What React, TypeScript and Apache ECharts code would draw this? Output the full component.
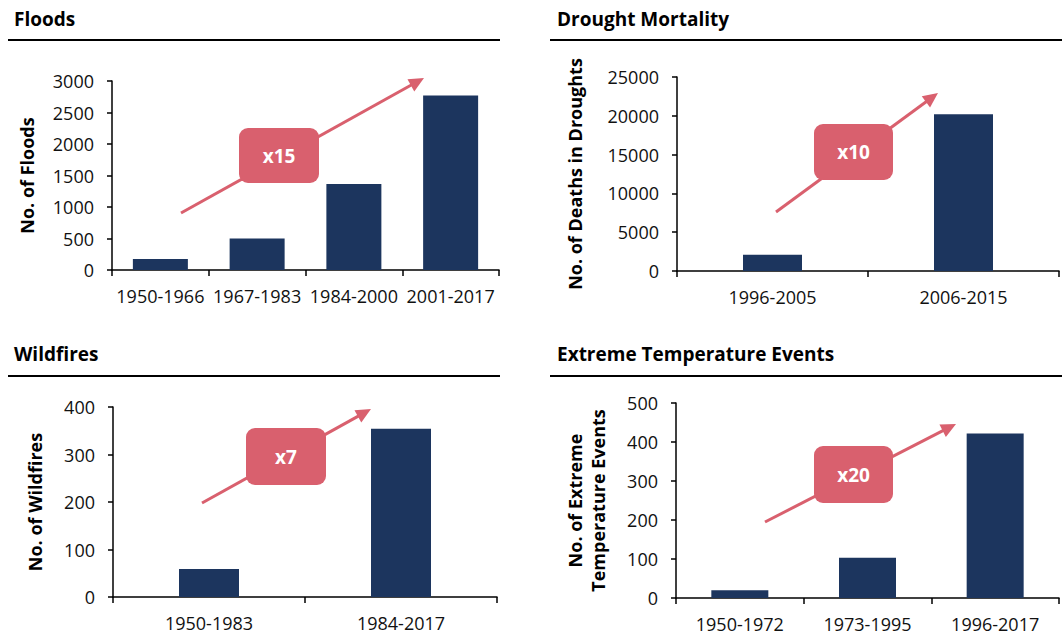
import React, { useEffect, useRef } from "react";
import * as echarts from "echarts";

// ---- Data ----
const floodCategories = ["1950-1966", "1967-1983", "1984-2000", "2001-2017"];
const floodValues = [175, 500, 1365, 2770];

const droughtCategories = ["1996-2005", "2006-2015"];
const droughtValues = [2100, 20200];

const wildfireCategories = ["1950-1983", "1984-2017"];
const wildfireValues = [59, 354];

const tempCategories = ["1950-1972", "1973-1995", "1996-2017"];
const tempValues = [20, 103, 422];

const panelTitles = ["Floods", "Drought Mortality", "Wildfires", "Extreme Temperature Events"];
const axisNames = [
  "No. of Floods",
  "No. of Deaths in Droughts",
  "No. of Wildfires",
  "No. of Extreme\nTemperature Events",
];
const multipliers = ["x15", "x10", "x7", "x20"];
const axisMax = [3000, 25000, 400, 500];
const axisInterval = [500, 5000, 100, 100];

// ---- Layout / style ----
const FONT = "'Open Sans', 'Noto Sans', sans-serif";
const BAR = "#1c355e";
const RED = "#d9606e";

const grids = [
  { left: 112, top: 81, width: 387, height: 189 },
  { left: 677, top: 77, width: 382, height: 194 },
  { left: 113, top: 407, width: 384, height: 190 },
  { left: 676, top: 403, width: 383, height: 195 },
];
const barWidths = [55, 59, 60, 57];
const nameGaps = [74, 91, 67, 67];
const titlePos = [
  { left: 14, top: 9 },
  { left: 557, top: 9 },
  { left: 14, top: 344 },
  { left: 557, top: 344 },
];
const underlines = [
  { x1: 8, x2: 500, y: 40 },
  { x1: 550, x2: 1062, y: 40 },
  { x1: 8, x2: 500, y: 376 },
  { x1: 550, x2: 1062, y: 376 },
];
const arrows = [
  { x1: 181, y1: 213, x2: 424, y2: 78 },
  { x1: 776, y1: 212, x2: 938, y2: 93 },
  { x1: 202, y1: 503, x2: 371, y2: 409 },
  { x1: 765, y1: 522, x2: 956, y2: 424 },
];
const boxes = [
  { x: 239, y: 128, w: 80, h: 55 },
  { x: 814, y: 124, w: 79, h: 56 },
  { x: 246, y: 428, w: 80, h: 57 },
  { x: 814, y: 446, w: 79, h: 57 },
];

function arrowElements(a: { x1: number; y1: number; x2: number; y2: number }) {
  const dx = a.x2 - a.x1;
  const dy = a.y2 - a.y1;
  const L = Math.hypot(dx, dy);
  const ux = dx / L;
  const uy = dy / L;
  const head = 15;
  const hw = 7;
  const bx = a.x2 - ux * head;
  const by = a.y2 - uy * head;
  return [
    {
      type: "line",
      z: 10,
      shape: { x1: a.x1, y1: a.y1, x2: bx + ux * 2, y2: by + uy * 2 },
      style: { stroke: RED, lineWidth: 3 },
    },
    {
      type: "polygon",
      z: 10,
      shape: {
        points: [
          [a.x2, a.y2],
          [bx - uy * hw, by + ux * hw],
          [bx + uy * hw, by - ux * hw],
        ],
      },
      style: { fill: RED },
    },
  ];
}

export default function App() {
  const ref = useRef<HTMLDivElement>(null);

  useEffect(() => {
    if (!ref.current) return;
    const chart = echarts.init(ref.current, undefined, { renderer: "svg" });

    const cats = [floodCategories, droughtCategories, wildfireCategories, tempCategories];
    const vals = [floodValues, droughtValues, wildfireValues, tempValues];

    const axisLine = { show: true, lineStyle: { color: "#000", width: 1.5 } };
    const axisTick = { show: true, length: 6, lineStyle: { color: "#000", width: 1.5 } };

    const graphic: any[] = [];
    underlines.forEach((u) => {
      graphic.push({
        type: "line",
        shape: { x1: u.x1, y1: u.y, x2: u.x2, y2: u.y },
        style: { stroke: "#000", lineWidth: 2 },
      });
    });
    arrows.forEach((a) => graphic.push(...arrowElements(a)));
    boxes.forEach((b, i) => {
      graphic.push({
        type: "rect",
        z: 20,
        shape: { x: b.x, y: b.y, width: b.w, height: b.h, r: 9 },
        style: { fill: RED },
      });
      graphic.push({
        type: "text",
        z: 21,
        x: b.x + b.w / 2,
        y: b.y + b.h / 2,
        style: {
          text: multipliers[i],
          fill: "#fff",
          fontSize: 19,
          fontWeight: "bold",
          fontFamily: FONT,
          align: "center",
          verticalAlign: "middle",
        },
      });
    });

    chart.setOption({
      animation: false,
      backgroundColor: "#fff",
      title: panelTitles.map((t, i) => ({
        text: t,
        left: titlePos[i].left,
        top: titlePos[i].top,
        padding: 0,
        textStyle: { fontFamily: FONT, fontSize: 19, fontWeight: "bold", color: "#000" },
      })),
      grid: grids.map((g) => ({ ...g, containLabel: false })),
      xAxis: cats.map((c, i) => ({
        type: "category",
        gridIndex: i,
        data: c,
        boundaryGap: true,
        axisLine,
        axisTick: { ...axisTick, alignWithLabel: false },
        axisLabel: { fontFamily: FONT, fontSize: 18, color: "#111", margin: 17, interval: 0 },
        splitLine: { show: false },
      })),
      yAxis: axisMax.map((m, i) => ({
        type: "value",
        gridIndex: i,
        min: 0,
        max: m,
        interval: axisInterval[i],
        axisLine,
        axisTick: { ...axisTick, length: 5 },
        axisLabel: {
          fontFamily: FONT,
          fontSize: 18,
          color: "#111",
          margin: 18,
          formatter: (v: number) => String(v),
        },
        splitLine: { show: false },
        name: axisNames[i],
        nameLocation: "middle",
        nameRotate: 90,
        nameGap: nameGaps[i],
        nameTextStyle: {
          fontFamily: FONT,
          fontSize: 18,
          fontWeight: "bold",
          color: "#000",
          lineHeight: 23,
        },
      })),
      series: vals.map((v, i) => ({
        type: "bar",
        xAxisIndex: i,
        yAxisIndex: i,
        data: v,
        barWidth: barWidths[i],
        itemStyle: { color: BAR },
      })),
      graphic,
    });

    return () => chart.dispose();
  }, []);

  return (
    <div
      ref={ref}
      style={{ position: "fixed", left: 0, top: 0, width: 1062, height: 636, background: "#fff" }}
    />
  );
}
